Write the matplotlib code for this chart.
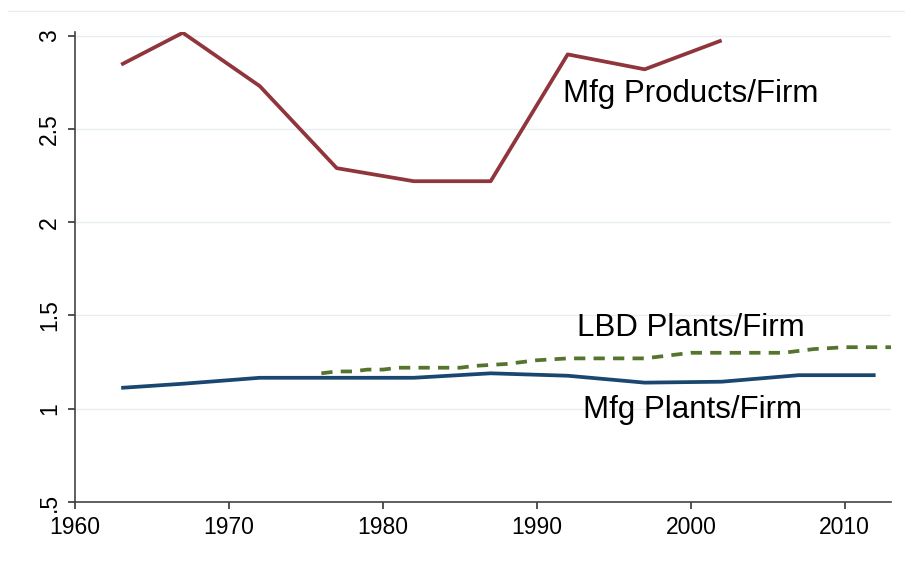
import matplotlib.pyplot as plt
from matplotlib.lines import Line2D

# census years
years = [1963, 1967, 1972, 1977, 1982, 1987, 1992, 1997, 2002]
products_per_firm = [2.845, 3.016, 2.73, 2.29, 2.22, 2.22, 2.90, 2.82, 2.975]

plant_years = [1963, 1967, 1972, 1977, 1982, 1987, 1992, 1997, 2002, 2007, 2012]
mfg_plants_per_firm = [1.112, 1.134, 1.166, 1.166, 1.166, 1.19, 1.177, 1.14, 1.145, 1.18, 1.18]

lbd_years = list(range(1976, 2014))
lbd_plants_per_firm = [1.19, 1.20, 1.20, 1.21, 1.21, 1.22, 1.22, 1.22, 1.22, 1.22,
                       1.23, 1.235, 1.24, 1.25, 1.26, 1.265, 1.27, 1.27, 1.27, 1.27,
                       1.27, 1.27, 1.28, 1.29, 1.30, 1.30, 1.30, 1.30, 1.30, 1.30,
                       1.30, 1.31, 1.32, 1.325, 1.33, 1.33, 1.33, 1.33]

yticks = [0.5, 1, 1.5, 2, 2.5, 3]
ytick_labels = [".5", "1", "1.5", "2", "2.5", "3"]
xticks = [1960, 1970, 1980, 1990, 2000, 2010]

plt.rcParams['font.family'] = ['Liberation Sans', 'DejaVu Sans']

fig = plt.figure(figsize=(9.05, 5.74), dpi=100)
ax = fig.add_axes([75/905, 1 - 502/574, (891 - 75)/905, (502 - 32)/574])

ax.plot(years, products_per_firm, c="#90353b", linewidth=2.7, solid_capstyle="butt")
ax.plot(plant_years, mfg_plants_per_firm, c="#1a476f", linewidth=2.7, solid_capstyle="butt")
ax.plot(lbd_years, lbd_plants_per_firm, c="#55752f", linewidth=2.7, linestyle=(0, (3, 2.2)))

ax.text(1991.7, 2.685, "Mfg Products/Firm", fontsize=22.5, ha="left", va="center")
ax.text(1992.6, 1.435, "LBD Plants/Firm", fontsize=22.5, ha="left", va="center")
ax.text(1993.0, 0.995, "Mfg Plants/Firm", fontsize=22.5, ha="left", va="center")

ax.set_xlim(1960, 2013)
ax.set_ylim(0.5, 3.02)
ax.set_xticks(xticks)
ax.set_yticks(yticks)
ax.set_yticklabels(ytick_labels, rotation=90, va="center")
ax.tick_params(labelsize=16.5, length=5, color="#333333", width=1.2, pad=5)
ax.grid(axis="y", color="#e6eef0", linewidth=1)
ax.set_axisbelow(True)
for s in ["top", "right"]:
    ax.spines[s].set_visible(False)
for s in ["left", "bottom"]:
    ax.spines[s].set_color("#444444")
    ax.spines[s].set_linewidth(1.2)

# faint outer border line at the top
fig.add_artist(Line2D([8/905, 1], [1 - 11/574, 1 - 11/574], color="#e6eef0", linewidth=1))

fig.savefig("out.png", dpi=100)
